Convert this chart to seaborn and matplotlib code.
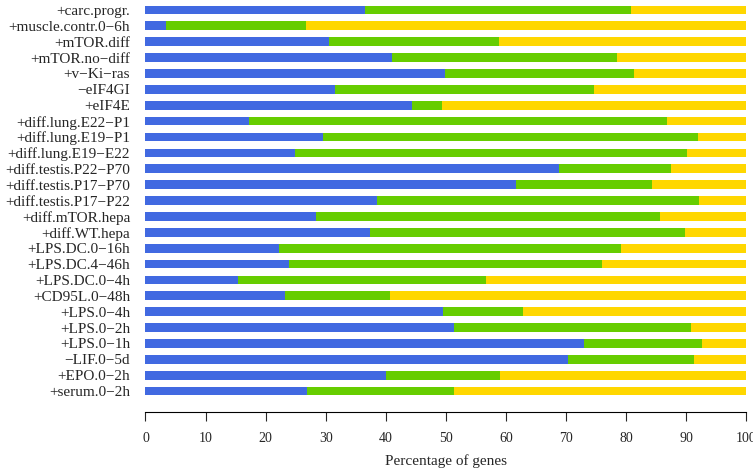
import pandas as pd
import seaborn as sns
from matplotlib import pyplot as plt

categories = ['+carc.progr.', '+muscle.contr.0−6h', '+mTOR.diff', '+mTOR.no−diff',
              '+v−Ki−ras', '−eIF4GI', '+eIF4E', '+diff.lung.E22−P1',
              '+diff.lung.E19−P1', '+diff.lung.E19−E22', '+diff.testis.P22−P70',
              '+diff.testis.P17−P70', '+diff.testis.P17−P22', '+diff.mTOR.hepa',
              '+diff.WT.hepa', '+LPS.DC.0−16h', '+LPS.DC.4−46h', '+LPS.DC.0−4h',
              '+CD95L.0−48h', '+LPS.0−4h', '+LPS.0−2h', '+LPS.0−1h', '−LIF.0−5d',
              '+EPO.0−2h', '+serum.0−2h']

# percentages per category (blue, green, yellow = rest)
blue = [36.6, 3.4, 30.6, 41.0, 49.9, 31.6, 44.3, 17.3, 29.5, 24.9, 68.9, 61.7, 38.6,
        28.3, 37.3, 22.2, 23.9, 15.4, 23.3, 49.6, 51.4, 73.0, 70.4, 40.0, 26.9]
green = [44.2, 23.4, 28.3, 37.5, 31.4, 43.0, 5.0, 69.5, 62.5, 65.3, 18.6, 22.6, 53.6,
         57.4, 52.5, 56.9, 52.0, 41.2, 17.4, 13.3, 39.4, 19.7, 20.9, 19.0, 24.5]
yellow = [100 - b - g for b, g in zip(blue, green)]

df = pd.DataFrame({'cat': categories, 'blue': blue, 'green': green, 'yellow': yellow})
df['bg'] = df['blue'] + df['green']
df['total'] = df['bg'] + df['yellow']

sns.set_style('white')
plt.rcParams['font.family'] = ['Liberation Serif', 'DejaVu Serif']

fig = plt.figure(figsize=(7.53, 4.74), dpi=100)
ax = fig.add_axes([0.1932, 0.1314, 0.7979, 0.8643])

sns.barplot(data=df, x='total', y='cat', orient='h', color='#FFD700', width=0.55,
            linewidth=0, saturation=1, ax=ax)
sns.barplot(data=df, x='bg', y='cat', orient='h', color='#66CD00', width=0.55,
            linewidth=0, saturation=1, ax=ax)
sns.barplot(data=df, x='blue', y='cat', orient='h', color='#4169E1', width=0.55,
            linewidth=0, saturation=1, ax=ax)

ax.set_xlim(0, 100)
ax.set_ylim(len(categories) - 1 + 1.30, -0.5)
ax.set_xticks(range(0, 101, 10))
ax.set_xlabel('Percentage of genes', fontsize=11, labelpad=7)
ax.set_ylabel('')
ax.tick_params(axis='y', length=0, pad=11, labelsize=11)
ax.tick_params(axis='x', length=6.5, width=0.8, direction='out', labelsize=10, pad=8)
ax.xaxis.set_ticks_position('bottom')
for s in ['top', 'left', 'right']:
    ax.spines[s].set_visible(False)
ax.spines['bottom'].set_color('black')
ax.spines['bottom'].set_linewidth(0.8)

fig.savefig('out.png', dpi=100)
